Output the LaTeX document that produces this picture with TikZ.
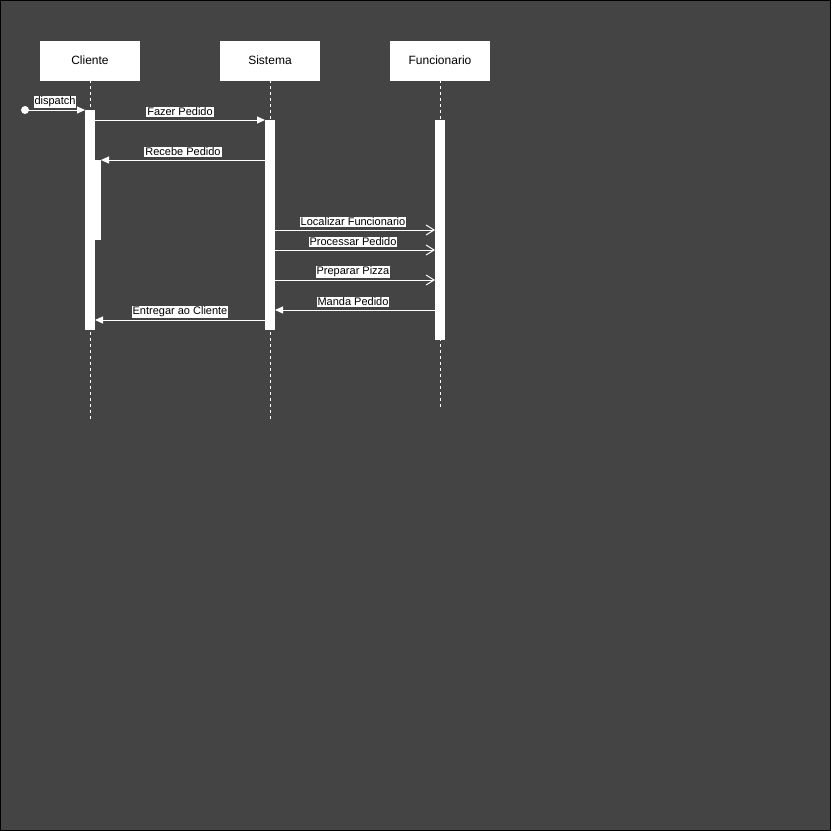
\documentclass[tikz,border=0pt]{standalone}
\usepackage{fontspec}
\setmainfont{Liberation Sans}
\usetikzlibrary{arrows.meta}
\definecolor{canvas}{HTML}{444444}
\tikzset{
  head/.style={fill=white, text=black, minimum width=100pt, minimum height=40pt, inner sep=0pt, font=\fontsize{12}{14}\selectfont},
  lifeline/.style={white, line width=1pt, dash pattern=on 3pt off 3pt},
  bar/.style={fill=white},
  callmsg/.style={white, line width=1pt, -{Triangle[length=8pt,width=7pt]}},
  openmsg/.style={white, line width=1pt, -{Straight Barb[length=8pt,width=10pt]}},
  msglabel/.style={fill=white, text=black, inner xsep=1pt, inner ysep=0.5pt, font=\fontsize{11}{12}\selectfont, yshift=8pt}
}

\begin{document}
\begin{tikzpicture}[x=1pt,y=-1pt]
        \draw[fill=canvas, draw=black, line width=1pt] (0.5,0.5) rectangle (830.5,830.5);
        \useasboundingbox (0,0) rectangle (831,831);
        % lifelines
        \draw[lifeline] (90,80) -- (90,420);
        \draw[lifeline] (270,80) -- (270,420);
        \draw[lifeline] (440,80) -- (440,408);
        \node[head] (Cli) at (90,60.5) {Cliente};
        \node[head] (Sis) at (270,60.5) {Sistema};
        \node[head] (Fun) at (440,60.5) {Funcionario};
        % activations
        \fill[bar] (85,110) rectangle (95,330);
        \fill[bar] (90,160) rectangle (101,240);
        \fill[bar] (265,120) rectangle (275,330);
        \fill[bar] (435,120) rectangle (445,340);
        % message end points
        \coordinate (S0) at (25,110);
        \coordinate (C0) at (85,110);
        \coordinate (C1) at (95,120);
        \coordinate (S1) at (265,120);
        \coordinate (S2) at (265,160);
        \coordinate (C2) at (101,160);
        \coordinate (S3) at (275,230);
        \coordinate (F3) at (435,230);
        \coordinate (S4) at (275,250);
        \coordinate (F4) at (435,250);
        \coordinate (S5) at (275,280);
        \coordinate (F5) at (435,280);
        \coordinate (F6) at (435,310);
        \coordinate (S6) at (275,310);
        \coordinate (S7) at (265,320);
        \coordinate (C7) at (95,320);
        % messages
        \fill[white] (S0) circle (4);
        \draw[callmsg] (S0) -- (C0) node[msglabel, midway] (Ldis) {dispatch};
        \draw[callmsg] (C1) -- (S1) node[msglabel, midway] (Lfaz) {Fazer Pedido};
        \draw[callmsg] (S2) -- (C2) node[msglabel, midway] (Lrec) {Recebe Pedido};
        \draw[openmsg] (S3) -- (F3) node[msglabel, midway, xshift=-2pt] (Lloc) {Localizar Funcionario};
        \draw[openmsg] (S4) -- (F4) node[msglabel, midway, xshift=-2pt] (Lpro) {Processar Pedido};
        \draw[openmsg] (S5) -- (F5) node[msglabel, midway, xshift=-2pt] (Lpre) {Preparar Pizza};
        \draw[callmsg] (F6) -- (S6) node[msglabel, midway, xshift=-2pt] (Lman) {Manda Pedido};
        \draw[callmsg] (S7) -- (C7) node[msglabel, midway] (Lent) {Entregar ao Cliente};
    \end{tikzpicture}
\end{document}
